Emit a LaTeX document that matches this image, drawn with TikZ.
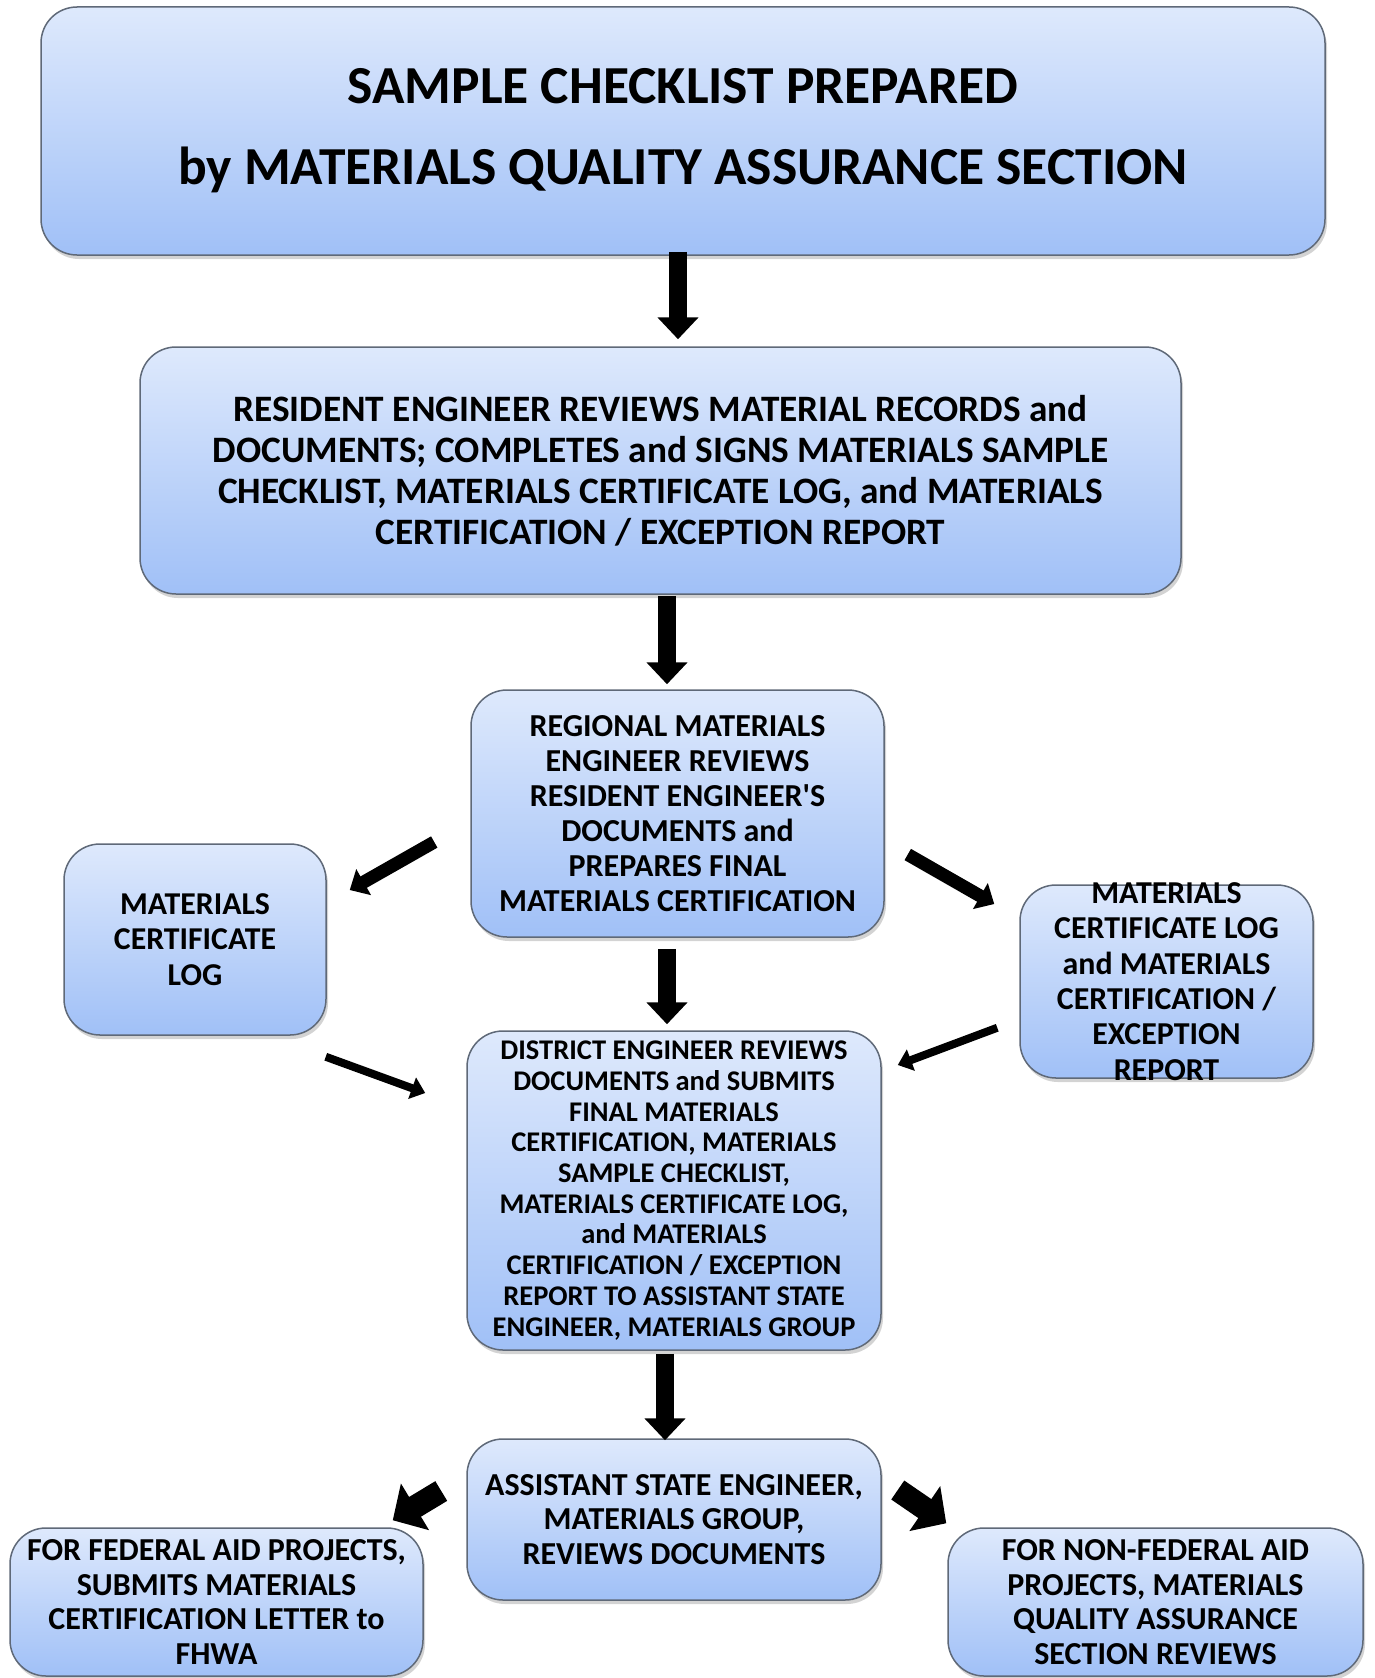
\documentclass[tikz,border=0pt]{standalone}
\usepackage{fontspec}
\setmainfont{Carlito}[Ligatures=TeXOff]
\usetikzlibrary{arrows.meta,shadows}
\definecolor{boxtop}{RGB}{222,233,252}
\definecolor{boxbot}{RGB}{160,192,247}
\definecolor{boxline}{RGB}{95,105,120}

\begin{document}
\begin{tikzpicture}[x=1pt,y=-1pt,
	box/.style={draw=boxline,line width=1.5pt,rounded corners=36pt,
		top color=boxtop,bottom color=boxbot,inner sep=0pt,align=center,
		drop shadow={shadow xshift=2pt,shadow yshift=-4pt,opacity=0.35}},
	txt/.style={align=center,inner sep=0pt},
	flow/.style={line width=18pt,-{Triangle[width=40pt,length=22pt]}},
	side/.style={line width=13pt,-{Triangle[width=29pt,length=16pt]}},
	slim/.style={line width=8pt,-{Triangle[width=22pt,length=14pt]}},
	fat/.style={line width=23pt,-{Triangle[width=53pt,length=26pt]}}]
	\useasboundingbox (0,0) rectangle (1374,1678);
	% boxes
	\node[box,minimum width=1284,minimum height=248,font=\fontsize{53.5}{81}\selectfont\bfseries] (top) at (683,131)
		{SAMPLE CHECKLIST PREPARED\\by MATERIALS QUALITY ASSURANCE SECTION};
	\node[box,minimum width=1041,minimum height=247,font=\fontsize{37.3}{41}\selectfont\bfseries] (res) at (660.5,470.5)
		{RESIDENT ENGINEER REVIEWS MATERIAL RECORDS and\\DOCUMENTS; COMPLETES and SIGNS MATERIALS SAMPLE\\CHECKLIST, MATERIALS CERTIFICATE LOG, and MATERIALS\\CERTIFICATION / EXCEPTION REPORT};
	\node[box,minimum width=413,minimum height=247,font=\fontsize{32}{35}\selectfont\bfseries] (reg) at (677.5,813.5)
		{REGIONAL MATERIALS\\ENGINEER REVIEWS\\RESIDENT ENGINEER'S\\DOCUMENTS and\\PREPARES FINAL\\MATERIALS CERTIFICATION};
	\node[box,minimum width=262,minimum height=191,font=\fontsize{31.8}{35.3}\selectfont\bfseries] (mcl) at (195,939.5)
		{MATERIALS\\CERTIFICATE\\LOG};
	\node[box,minimum width=293,minimum height=193] (mcx) at (1166.5,981.5) {};
	\node[txt,font=\fontsize{31.9}{35.3}\selectfont\bfseries] (mcxtxt) at (mcx.center)
		{MATERIALS\\CERTIFICATE LOG\\and MATERIALS\\CERTIFICATION /\\EXCEPTION\\REPORT};
	\node[box,minimum width=414,minimum height=319,font=\fontsize{28.5}{30.7}\selectfont\bfseries] (dist) at (674,1190.5)
		{DISTRICT ENGINEER REVIEWS\\DOCUMENTS and SUBMITS\\FINAL MATERIALS\\CERTIFICATION, MATERIALS\\SAMPLE CHECKLIST,\\MATERIALS CERTIFICATE LOG,\\and MATERIALS\\CERTIFICATION / EXCEPTION\\REPORT TO ASSISTANT STATE\\ENGINEER, MATERIALS GROUP};
	\node[box,minimum width=414,minimum height=161,font=\fontsize{32}{34.8}\selectfont\bfseries] (ase) at (674,1519.5)
		{ASSISTANT STATE ENGINEER,\\MATERIALS GROUP,\\REVIEWS DOCUMENTS};
	\node[box,minimum width=413,minimum height=148,font=\fontsize{32}{34.6}\selectfont\bfseries] (fed) at (216.5,1602)
		{FOR FEDERAL AID PROJECTS,\\SUBMITS MATERIALS\\CERTIFICATION LETTER to\\FHWA};
	\node[box,minimum width=415,minimum height=148,font=\fontsize{32}{34.6}\selectfont\bfseries] (nonfed) at (1155.5,1602)
		{FOR NON-FEDERAL AID\\PROJECTS, MATERIALS\\QUALITY ASSURANCE\\SECTION REVIEWS};
	% arrows
	\draw[flow] ([shift={(-5,-4)}]top.south) -- ([shift={(17.5,-7)}]res.north);
	\draw[flow] ([shift={(6.5,1)}]res.south) -- ([shift={(-10.5,-5)}]reg.north);
	\draw[side] ([shift={(-36,28.5)}]reg.west) -- ([shift={(23,-49.5)}]mcl.east);
	\draw[side] ([shift={(23,41)}]reg.east) -- ([shift={(-25,-77.5)}]mcx.west);
	\draw[flow] ([shift={(-10.5,11)}]reg.south) -- ([shift={(-7,-6)}]dist.north);
	\draw[slim] ([shift={(-1,21)}]mcl.south east) -- ([shift={(-41,-97.5)}]dist.west);
	\draw[slim] ([shift={(-22,-51)}]mcx.south west) -- ([shift={(16,-125.5)}]dist.east);
	\draw[flow] ([shift={(-9,3)}]dist.south) -- ([shift={(-9,2)}]ase.north);
	\draw[fat] ([shift={(-25,-28.5)}]ase.west) -- ([shift={(-31,-7)}]fed.north east);
	\draw[fat] ([shift={(16,-29.5)}]ase.east) -- ([shift={(-1,-4)}]nonfed.north west);
\end{tikzpicture}
\end{document}
